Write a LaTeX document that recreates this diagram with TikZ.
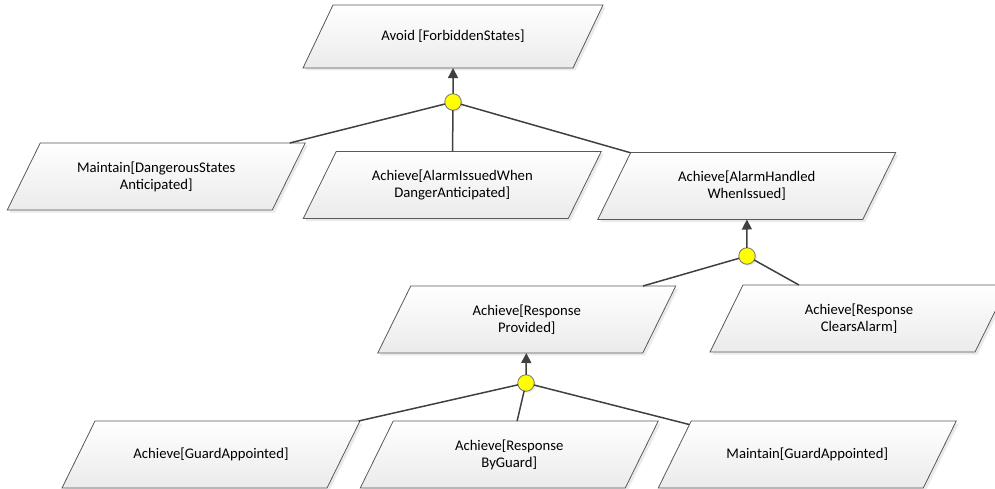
\documentclass[tikz,border=0pt]{standalone}
\usepackage{fontspec}
\setmainfont{Carlito}
\usetikzlibrary{shapes.geometric,shadows,arrows.meta}
\definecolor{edgegray}{HTML}{404040}
\definecolor{framegray}{HTML}{595959}
\definecolor{andyellow}{HTML}{FFFF00}
% fixed-height text body so the trapezium slant follows the full height
\newcommand{\goallabel}[2][67pt]{\parbox[c][#1][c]{200pt}{\centering #2}}
\tikzset{
  goal/.style={trapezium, trapezium left angle=63.78, trapezium right angle=116.22,
    trapezium stretches body, minimum width=298pt,
    inner sep=0pt, outer sep=0pt, draw=framegray, line width=0.8pt,
    top color=white, bottom color=black!8,
    drop shadow={shadow xshift=2.5pt, shadow yshift=-2.5pt, fill=black!16},
    font=\fontsize{14.7}{17}\selectfont},
  topgoal/.style={goal, trapezium left angle=64.54, trapezium right angle=115.46,
    minimum width=300pt},
  andnode/.style={circle, minimum size=16.5pt, inner sep=0pt, outer sep=0pt,
    draw=black!55, line width=0.8pt, fill=andyellow,
    drop shadow={shadow xshift=1.5pt, shadow yshift=-1.5pt, fill=black!18}},
  link/.style={draw=edgegray, line width=1.5pt},
  refine/.style={link, -{Triangle[length=10pt,width=10pt]}},
}
\begin{document}
\begin{tikzpicture}[x=1pt, y=-1pt]
  \useasboundingbox (0,0) rectangle (995,489);
  \clip (0,0) rectangle (995,489);

  % goals
  \node[topgoal] (avoid) at (453,36.5) {\goallabel[63pt]{Avoid [ForbiddenStates]}};
  \node[goal] (dang)    at (156.25,176.5) {\goallabel{Maintain[DangerousStates\\Anticipated]}};
  \node[goal] (issued)  at (452.25,185)   {\goallabel{Achieve[AlarmIssuedWhen\\DangerAnticipated]}};
  \node[goal] (handled) at (746.75,186)   {\goallabel{Achieve[AlarmHandled\\WhenIssued]}};
  \node[goal] (resp)    at (526.75,319.5) {\goallabel{Achieve[Response\\Provided]}};
  \node[goal] (clears)  at (859,318.5)    {\goallabel{Achieve[Response\\ClearsAlarm]}};
  \node[goal] (guard)   at (211,454.5)    {\goallabel{Achieve[GuardAppointed]}};
  \node[goal] (byguard) at (509.25,454.5) {\goallabel{Achieve[Response\\ByGuard]}};
  \node[goal] (keep)    at (807.25,454.5) {\goallabel{Maintain[GuardAppointed]}};

  % refinement (AND) nodes
  \node[andnode] (r1) at (453,102) {};
  \node[andnode] (r2) at (747,256) {};
  \node[andnode] (r3) at (526,383) {};

  % refinement links
  \draw[refine] (r1) -- (avoid);
  \draw[link] (r1) -- (dang);
  \draw[link] (r1) -- (issued);
  \draw[link] (r1) -- (handled);

  \draw[refine] (r2) -- (handled);
  \draw[link] (r2) -- (resp);
  \draw[link] (r2) -- (clears);

  \draw[refine] (r3) -- (resp);
  \draw[link] (r3) -- (guard);
  \draw[link] (r3) -- (byguard);
  \draw[link] (r3) -- (keep);
\end{tikzpicture}
\end{document}
